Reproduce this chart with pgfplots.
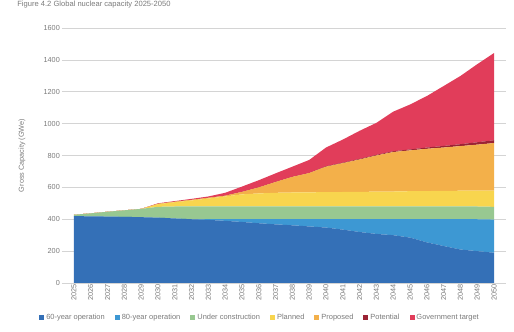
\documentclass[border=0pt]{standalone}
\usepackage{pgfplots}
\pgfplotsset{compat=1.18}
\usepackage{pgfplotstable}
\usepackage{fontspec}
\setmainfont{Liberation Sans}
\definecolor{c60}{HTML}{3470B7}
\definecolor{c80}{HTML}{3D98D3}
\definecolor{cuc}{HTML}{98C891}
\definecolor{cpl}{HTML}{F8D54E}
\definecolor{cpr}{HTML}{F3B04A}
\definecolor{cpo}{HTML}{9B2335}
\definecolor{cgt}{HTML}{E13D5A}
\definecolor{txt}{HTML}{7A7A7A}
\definecolor{grd}{HTML}{D4D4D4}

\pgfplotstableread{
year s60 s80 uc pl pr po gt
2025 420 0 8 0 0 0 0
2026 418 0 19 0 0 0 0
2027 417 0 30 0 0 0 0
2028 415 0 41 0 0 0 0
2029 413 0 52 0 0 0 0
2030 410 0 68 17 2 0 3
2031 405 0 75 27 3 0 4
2032 400 0 80 38 4 0 6
2033 396 4 80 50 5 0 8
2034 390 10 80 63 5 0 18
2035 383 17 80 76 16 0 33
2036 375 25 80 82 38 0 45
2037 368 32 80 86 68 0 54
2038 362 38 80 88 98 0 64
2039 355 45 80 89 121 0 82
2040 348 52 80 90 160 3 117
2041 335 65 80 91 181 3 145
2042 320 80 80 92 203 4 176
2043 308 92 80 93 227 4 201
2044 300 100 80 94 248 5 248
2045 285 115 80 96 256 6 282
2046 255 145 80 97 265 8 323
2047 232 168 80 98 272 10 376
2048 210 190 80 99 280 12 428
2049 200 200 80 100 288 15 490
2050 190 208 80 101 299 18 547
}\data

\begin{document}
\begin{tikzpicture}
\path[use as bounding box] (0,0) rectangle (514bp,332bp);
\begin{axis}[
  at={(62bp,49bp)}, anchor=south west,
  scale only axis, width=444bp, height=255bp,
  xmin=2024.29, xmax=2050.71,
  ymin=0, ymax=1600,
  ytick={0,200,...,1600},
  xtick={2025,...,2050},
  stack plots=y,
  axis line style={draw=none},
  major tick length=0pt,
  ymajorgrids,
  grid style={grd, line width=0.6bp},
  tick label style={text=txt, font=\fontsize{7.3}{8}\selectfont},
  /pgf/number format/assume math mode=true,
  /pgf/number format/1000 sep={},
  xticklabel style={rotate=90, anchor=east, inner sep=1.5pt},
  yticklabel style={inner sep=2pt},
  ylabel={Gross Capacity (GWe)},
  ylabel style={at={(axis description cs:-0.09,0.5)}, anchor=center, text=txt, font=\fontsize{7.3}{8}\selectfont},
  title={Figure 4.2 Global nuclear capacity 2025-2050},
  title style={at={(axis description cs:-0.101,1.07)}, anchor=west, text=txt, font=\fontsize{7.6}{8}\selectfont, inner sep=0pt},
  legend columns=7,
  legend style={at={(axis description cs:0.446,-0.137)}, anchor=center, draw=none, fill=none,
    font=\fontsize{7.5}{8}\selectfont, text=txt,
    /tikz/every even column/.append style={column sep=8bp},
    inner sep=0pt},
  legend cell align=left,
  legend image code/.code={\fill[#1] (0bp,-2.5bp) rectangle (5bp,2.5bp);},
]
\addplot[fill=c60, draw=none] table[x=year, y=s60] {\data} \closedcycle;
\addlegendentry{60-year operation}
\addplot[fill=c80, draw=none] table[x=year, y=s80] {\data} \closedcycle;
\addlegendentry{80-year operation}
\addplot[fill=cuc, draw=none] table[x=year, y=uc] {\data} \closedcycle;
\addlegendentry{Under construction}
\addplot[fill=cpl, draw=none] table[x=year, y=pl] {\data} \closedcycle;
\addlegendentry{Planned}
\addplot[fill=cpr, draw=none] table[x=year, y=pr] {\data} \closedcycle;
\addlegendentry{Proposed}
\addplot[fill=cpo, draw=none] table[x=year, y=po] {\data} \closedcycle;
\addlegendentry{Potential}
\addplot[fill=cgt, draw=none] table[x=year, y=gt] {\data} \closedcycle;
\addlegendentry{Government target}
\end{axis}
\end{tikzpicture}
\end{document}
